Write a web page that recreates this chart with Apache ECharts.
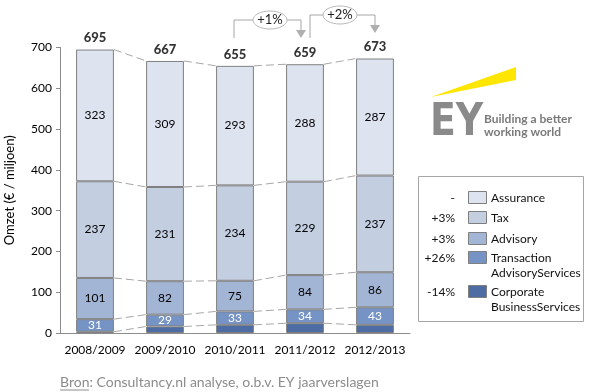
<!DOCTYPE html>
<html><head><meta charset="utf-8">
<script src="https://cdn.jsdelivr.net/npm/echarts@6/dist/echarts.min.js"></script>
<style>html,body{margin:0;padding:0;background:#fff}#c{width:589px;height:392px}</style>
</head><body><div id="c"></div>
<script>
const categories = ['2008/2009','2009/2010','2010/2011','2011/2012','2012/2013'];
const corporate = [3, 16, 20, 24, 20];
const transaction = [31, 29, 33, 34, 43];
const advisory = [101, 82, 75, 84, 86];
const tax = [237, 231, 234, 229, 237];
const assurance = [323, 309, 293, 288, 287];
const totals = [695, 667, 655, 659, 673];
const yTicks = [0, 100, 200, 300, 400, 500, 600, 700];
const legendNames = ['Assurance', 'Tax', 'Advisory', 'Transaction\nAdvisoryServices', 'Corporate\nBusinessServices'];
const legendChanges = ['-', '+3%', '+3%', '+26%', '-14%'];
const growthLabels = ['+1%', '+2%'];

const FONT = 'Lato, "Open Sans", sans-serif';
const colors = ['#4c6ca3', '#7593c4', '#a3b5d4', '#c4cee1', '#dde3ef'];
const layers = [corporate, transaction, advisory, tax, assurance];
const layerNames = ['Corporate Business Services', 'Transaction Advisory Services', 'Advisory', 'Tax', 'Assurance'];
const BARW = 0.54;

// cumulative boundaries for dashed connectors
const connectors = [];
for (let i = 0; i < categories.length - 1; i++) {
  let c1 = 0, c2 = 0;
  for (let k = 0; k < layers.length; k++) {
    c1 += layers[k][i]; c2 += layers[k][i + 1];
    connectors.push([i, c1, c2]);
  }
}

const chart = echarts.init(document.getElementById('c'), null, {renderer: 'canvas'});
const barSeries = layers.map((arr, k) => ({
  name: layerNames[k], type: 'bar', stack: 'tot', barWidth: (BARW * 100) + '%',
  data: arr,
  itemStyle: {color: colors[k], borderColor: '#808080', borderWidth: 1},
  label: {
    show: k > 0, position: 'inside', fontFamily: FONT, fontSize: 12,
    color: k === 1 ? '#ffffff' : '#000000'
  },
  z: 3
}));

chart.setOption({
  animation: false,
  grid: {left: 60, right: 179, top: 47.5, bottom: 59, containLabel: false, outerBoundsMode: 'none'},
  xAxis: {
    type: 'category', data: categories,
    axisLine: {lineStyle: {color: '#8c8c8c'}},
    axisTick: {show: false},
    axisLabel: {interval: 0, fontFamily: FONT, fontSize: 12, color: '#000', margin: 11}
  },
  yAxis: {
    type: 'value', min: yTicks[0], max: yTicks[yTicks.length - 1], interval: 100,
    name: 'Omzet (€ / miljoen)', nameLocation: 'middle', nameGap: 44,
    nameTextStyle: {fontFamily: FONT, fontSize: 13, color: '#000'},
    axisLine: {show: true, lineStyle: {color: '#8c8c8c'}},
    axisTick: {show: true, length: 4, lineStyle: {color: '#8c8c8c'}},
    splitLine: {show: false},
    axisLabel: {fontFamily: FONT, fontSize: 12, color: '#000', margin: 8}
  },
  series: barSeries.concat([
    {
      type: 'custom', data: connectors, encode: {x: 0, y: 1}, z: 1, silent: true,
      renderItem: function (params, api) {
        const i = api.value(0);
        const p1 = api.coord([i, api.value(1)]);
        const p2 = api.coord([i + 1, api.value(2)]);
        const half = api.size([1, 0])[0] * BARW / 2;
        return {type: 'line', shape: {x1: p1[0] + half, y1: p1[1], x2: p2[0] - half, y2: p2[1]},
          style: {stroke: '#a6a6a6', lineWidth: 1, lineDash: [8, 4]}};
      }
    },
    {
      type: 'scatter', data: totals, symbolSize: 0, z: 4, silent: true,
      label: {show: true, position: 'top', distance: 5, fontFamily: FONT, fontSize: 13, fontWeight: 900, color: '#000'}
    }
  ])
});

// annotations, legend, logo and source
const px = (i, v) => chart.convertToPixel({seriesIndex: 0}, [i, v]);
const g = [];
const annStroke = '#a6a6a6';
function growth(iFrom, iTo, label, yTop, xStartOff, xEndOff, yStart, yArrow) {
  const a = px(iFrom, 0)[0] + xStartOff, b = px(iTo, 0)[0] + xEndOff;
  const mid = (px(iFrom, 0)[0] + px(iTo, 0)[0]) / 2;
  const ew = 17, eh = 9;
  g.push({type: 'polyline', shape: {points: [[a, yStart], [a, yTop], [mid - ew, yTop]]}, style: {stroke: annStroke, lineWidth: 1, fill: null}});
  g.push({type: 'polyline', shape: {points: [[mid + ew, yTop], [b, yTop], [b, yArrow - 8]]}, style: {stroke: annStroke, lineWidth: 1, fill: null}});
  g.push({type: 'polygon', shape: {points: [[b - 5, yArrow - 8], [b + 5, yArrow - 8], [b, yArrow]]}, style: {fill: '#b0b0b0'}});
  g.push({type: 'ellipse', shape: {cx: mid, cy: yTop, rx: ew, ry: eh}, style: {fill: '#fff', stroke: '#b8b8b8', lineWidth: 1}});
  g.push({type: 'text', x: mid, y: yTop, style: {text: label, fontFamily: FONT, fontSize: 13, fill: '#222', align: 'center', verticalAlign: 'middle'}});
}
growth(2, 3, growthLabels[0], 20, -1, -4, 38, 38);
growth(3, 4, growthLabels[1], 15, 5, 0, 38, 33);

// legend
g.push({type: 'rect', shape: {x: 418.5, y: 176.5, width: 165, height: 145}, style: {fill: '#fff', stroke: '#a6a6a6', lineWidth: 1}});
const legendY = [198, 218, 239, 258, 292];
const legendColors = colors.slice().reverse();
legendNames.forEach((n, j) => {
  const y = legendY[j];
  g.push({type: 'rect', shape: {x: 468.5, y: y - 6.5, width: 18, height: 12}, style: {fill: legendColors[j], stroke: '#7f7f7f', lineWidth: 1}});
  g.push({type: 'text', x: 455, y: y, style: {text: legendChanges[j], fontFamily: FONT, fontSize: 12, fill: '#111', align: 'right', verticalAlign: 'middle'}});
  g.push({type: 'text', x: 491, y: y - 7, style: {text: n, fontFamily: FONT, fontSize: 12, lineHeight: 14.5, fill: '#111', align: 'left', verticalAlign: 'top'}});
});

// EY logo
g.push({type: 'polygon', shape: {points: [[431, 97], [516, 67], [516, 80]]}, style: {fill: '#ffe600'}});
g.push({type: 'text', x: 430, y: 124, scaleX: 0.86, originX: 0, originY: 0,
  style: {text: 'EY', fontFamily: '"DejaVu Sans", "Liberation Sans", sans-serif', fontWeight: 'bold', fontSize: 44, fill: '#8a8a8a', align: 'left', verticalAlign: 'middle'}});
g.push({type: 'text', x: 484, y: 113, style: {text: 'Building a better\nworking world', fontFamily: FONT, fontSize: 12, fontWeight: 'bold', lineHeight: 13, fill: '#7a7a7a', align: 'left', verticalAlign: 'top'}});

// source
g.push({type: 'text', x: 60, y: 382, style: {text: 'Bron: Consultancy.nl analyse, o.b.v. EY jaarverslagen', fontFamily: FONT, fontSize: 14, fill: '#8c8c8c', align: 'left', verticalAlign: 'middle'}});
g.push({type: 'line', shape: {x1: 60, y1: 390, x2: 89, y2: 390}, style: {stroke: '#8c8c8c', lineWidth: 1}});

chart.setOption({graphic: g});
</script></body></html>
